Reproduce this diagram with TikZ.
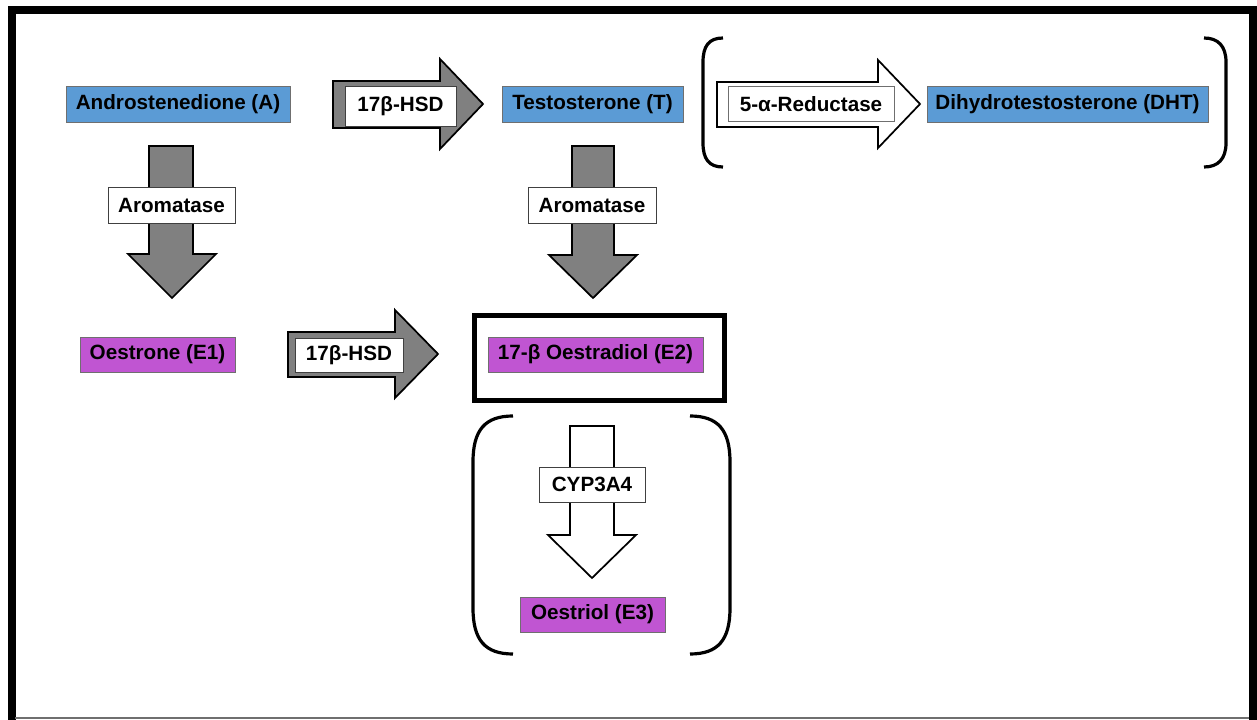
\documentclass[tikz,border=0pt]{standalone}
\usepackage{fontspec}
\setmainfont{Liberation Sans}
\definecolor{cblue}{HTML}{5B9BD5}
\definecolor{cpurple}{HTML}{C055D2}
\definecolor{cgray}{HTML}{808080}
\definecolor{cedge}{HTML}{6F6F6F}
\tikzset{
  box/.style={draw=cedge, line width=0.6pt, inner sep=0pt, font=\fontsize{15.5}{18}\selectfont\bfseries, text=black},
  bluebox/.style={box, fill=cblue},
  purplebox/.style={box, fill=cpurple},
  labelbox/.style={box, fill=white, draw=black!75},
  grayarrow/.style={draw=black, line width=1.3pt, fill=cgray, line join=miter},
  whitearrow/.style={draw=black, line width=1.3pt, fill=white, line join=miter},
  paren/.style={draw=black, line width=2.4pt},
}
\begin{document}
\begin{tikzpicture}[x=0.75pt, y=-0.75pt]
\useasboundingbox (0,0) rectangle (1257,720);
\clip (0,0) rectangle (1257,720);
\fill[white] (0,0) rectangle (1257,720);
% outer frame
\draw[line width=6pt, line join=miter] (11.5,730) -- (11.5,10) -- (1253,10) -- (1253,730);
\draw[cedge, line width=1.2pt] (15,718) -- (1249,718);

% block arrows
\draw[grayarrow] (149,146) -- (193,146) -- (193,254) -- (216,254) -- (172,298) -- (128,254) -- (149,254) -- cycle;
\draw[grayarrow] (572,146) -- (614,146) -- (614,255) -- (637,255) -- (593,298) -- (549,255) -- (572,255) -- cycle;
\draw[whitearrow] (570,426) -- (614,426) -- (614,535) -- (636,535) -- (592,578) -- (548,535) -- (570,535) -- cycle;
\draw[grayarrow] (333,81) -- (440,81) -- (440,59) -- (483,104) -- (440,149) -- (440,128) -- (333,128) -- cycle;
\draw[grayarrow] (288,332) -- (395,332) -- (395,310) -- (438,354) -- (395,398) -- (395,377) -- (288,377) -- cycle;
\draw[whitearrow] (717,82) -- (878,82) -- (878,60) -- (920,104) -- (878,148) -- (878,127) -- (717,127) -- cycle;

% compound boxes
\node[bluebox, minimum width=168pt, minimum height=27pt] (A) at (178,104) {Androstenedione (A)};
\node[bluebox, minimum width=135.75pt, minimum height=27pt] (T) at (592.5,104) {Testosterone (T)};
\node[bluebox, minimum width=210.75pt, minimum height=27pt] (DHT) at (1067.5,104) {Dihydrotestosterone (DHT)};
\node[purplebox, minimum width=116.25pt, minimum height=26.25pt] (E1) at (157.5,354.5) {Oestrone (E1)};
\node[purplebox, minimum width=161.25pt, minimum height=26.25pt] (E2) at (595.5,354.5) {17-β Oestradiol (E2)};
\node[purplebox, minimum width=108.75pt, minimum height=26.25pt] (E3) at (592.5,614.5) {Oestriol (E3)};

% enzyme labels
\node[labelbox, minimum width=95.25pt, minimum height=27pt] (aro1) at (171.5,205) {Aromatase};
\node[labelbox, minimum width=96pt, minimum height=27pt] (aro2) at (592,205) {Aromatase};
\node[labelbox, minimum width=83.25pt, minimum height=30pt] (hsd1) at (400.5,106) {17β-HSD};
\node[labelbox, minimum width=81pt, minimum height=25.5pt] (hsd2) at (349,355) {17β-HSD};
\node[labelbox, draw=cedge, minimum width=124.5pt, minimum height=26.25pt] (red) at (811,104) {5-α-Reductase};
\node[labelbox, minimum width=79.5pt, minimum height=26.25pt] (cyp) at (592,484.5) {CYP3A4};

% thick frame round E2
\draw[line width=3.75pt] (474.5,315.5) rectangle (724.5,400.5);

% parentheses
\draw[paren] (723,38) .. controls (709,38) and (703,46) .. (703,62) -- (703,143) .. controls (703,159) and (709,167) .. (723,167);
\draw[paren] (1204,38) .. controls (1218,38) and (1226,46) .. (1226,62) -- (1226,143) .. controls (1226,159) and (1218,167) .. (1204,167);
\draw[paren] (513,416) .. controls (485,416) and (473,430) .. (473,462) -- (473,608) .. controls (473,640) and (485,654) .. (513,654);
\draw[paren] (690,416) .. controls (718,416) and (730,430) .. (730,462) -- (730,608) .. controls (730,640) and (718,654) .. (690,654);
\end{tikzpicture}
\end{document}
